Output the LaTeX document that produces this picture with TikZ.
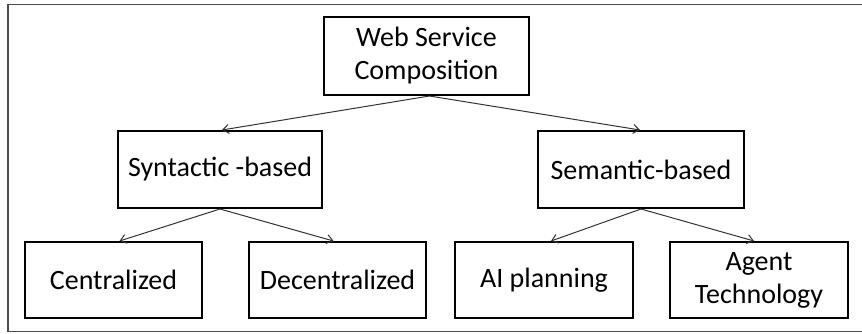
\documentclass[tikz,border=0pt]{standalone}
\usepackage{fontspec}
\setmainfont{Carlito}
\usetikzlibrary{arrows.meta}

\tikzset{
  box/.style={draw, line width=2pt, align=center, inner sep=0pt,
    font=\fontsize{28}{33}\selectfont},
  link/.style={draw=black!80, line width=1pt, -{Straight Barb[length=6pt,width=9pt]}}
}

\begin{document}
\begin{tikzpicture}[x=1pt,y=-1pt]
\useasboundingbox (0,0) rectangle (862,333);
\begin{scope}
\clip (0,0) rectangle (862,333);
\draw[black!70, line width=1.5pt] (8,4.5) rectangle (880,331.5);
\end{scope}

\node[box, minimum width=205pt, minimum height=78pt] (wsc) at (426.5,56) {Web Service\\Composition};
\node[box, minimum width=204pt, minimum height=77pt] (syn) at (220,169.5) {Syntactic -based};
\node[box, minimum width=206pt, minimum height=77pt] (sem) at (641,169.5) {Semantic-based};
\node[box, minimum width=177pt, minimum height=76pt] (cen) at (113.5,280) {Centralized};
\node[box, minimum width=177pt, minimum height=76pt] (dec) at (337.5,280) {Decentralized};
\node[box, minimum width=178pt, minimum height=76pt] (aip) at (544,280) {AI planning};
\node[box, minimum width=178pt, minimum height=76pt] (agt) at (759,280) {Agent\\Technology};

\draw[link] ([xshift=3pt]wsc.south) -- ([xshift=2pt]syn.north);
\draw[link] ([xshift=3pt]wsc.south) -- ([xshift=-1pt]sem.north);
\draw[link] (syn.south) -- ([xshift=6pt]cen.north);
\draw[link] (syn.south) -- ([xshift=-4pt]dec.north);
\draw[link] (sem.south) -- ([xshift=7pt]aip.north);
\draw[link] (sem.south) -- ([xshift=-5pt]agt.north);

\end{tikzpicture}
\end{document}
